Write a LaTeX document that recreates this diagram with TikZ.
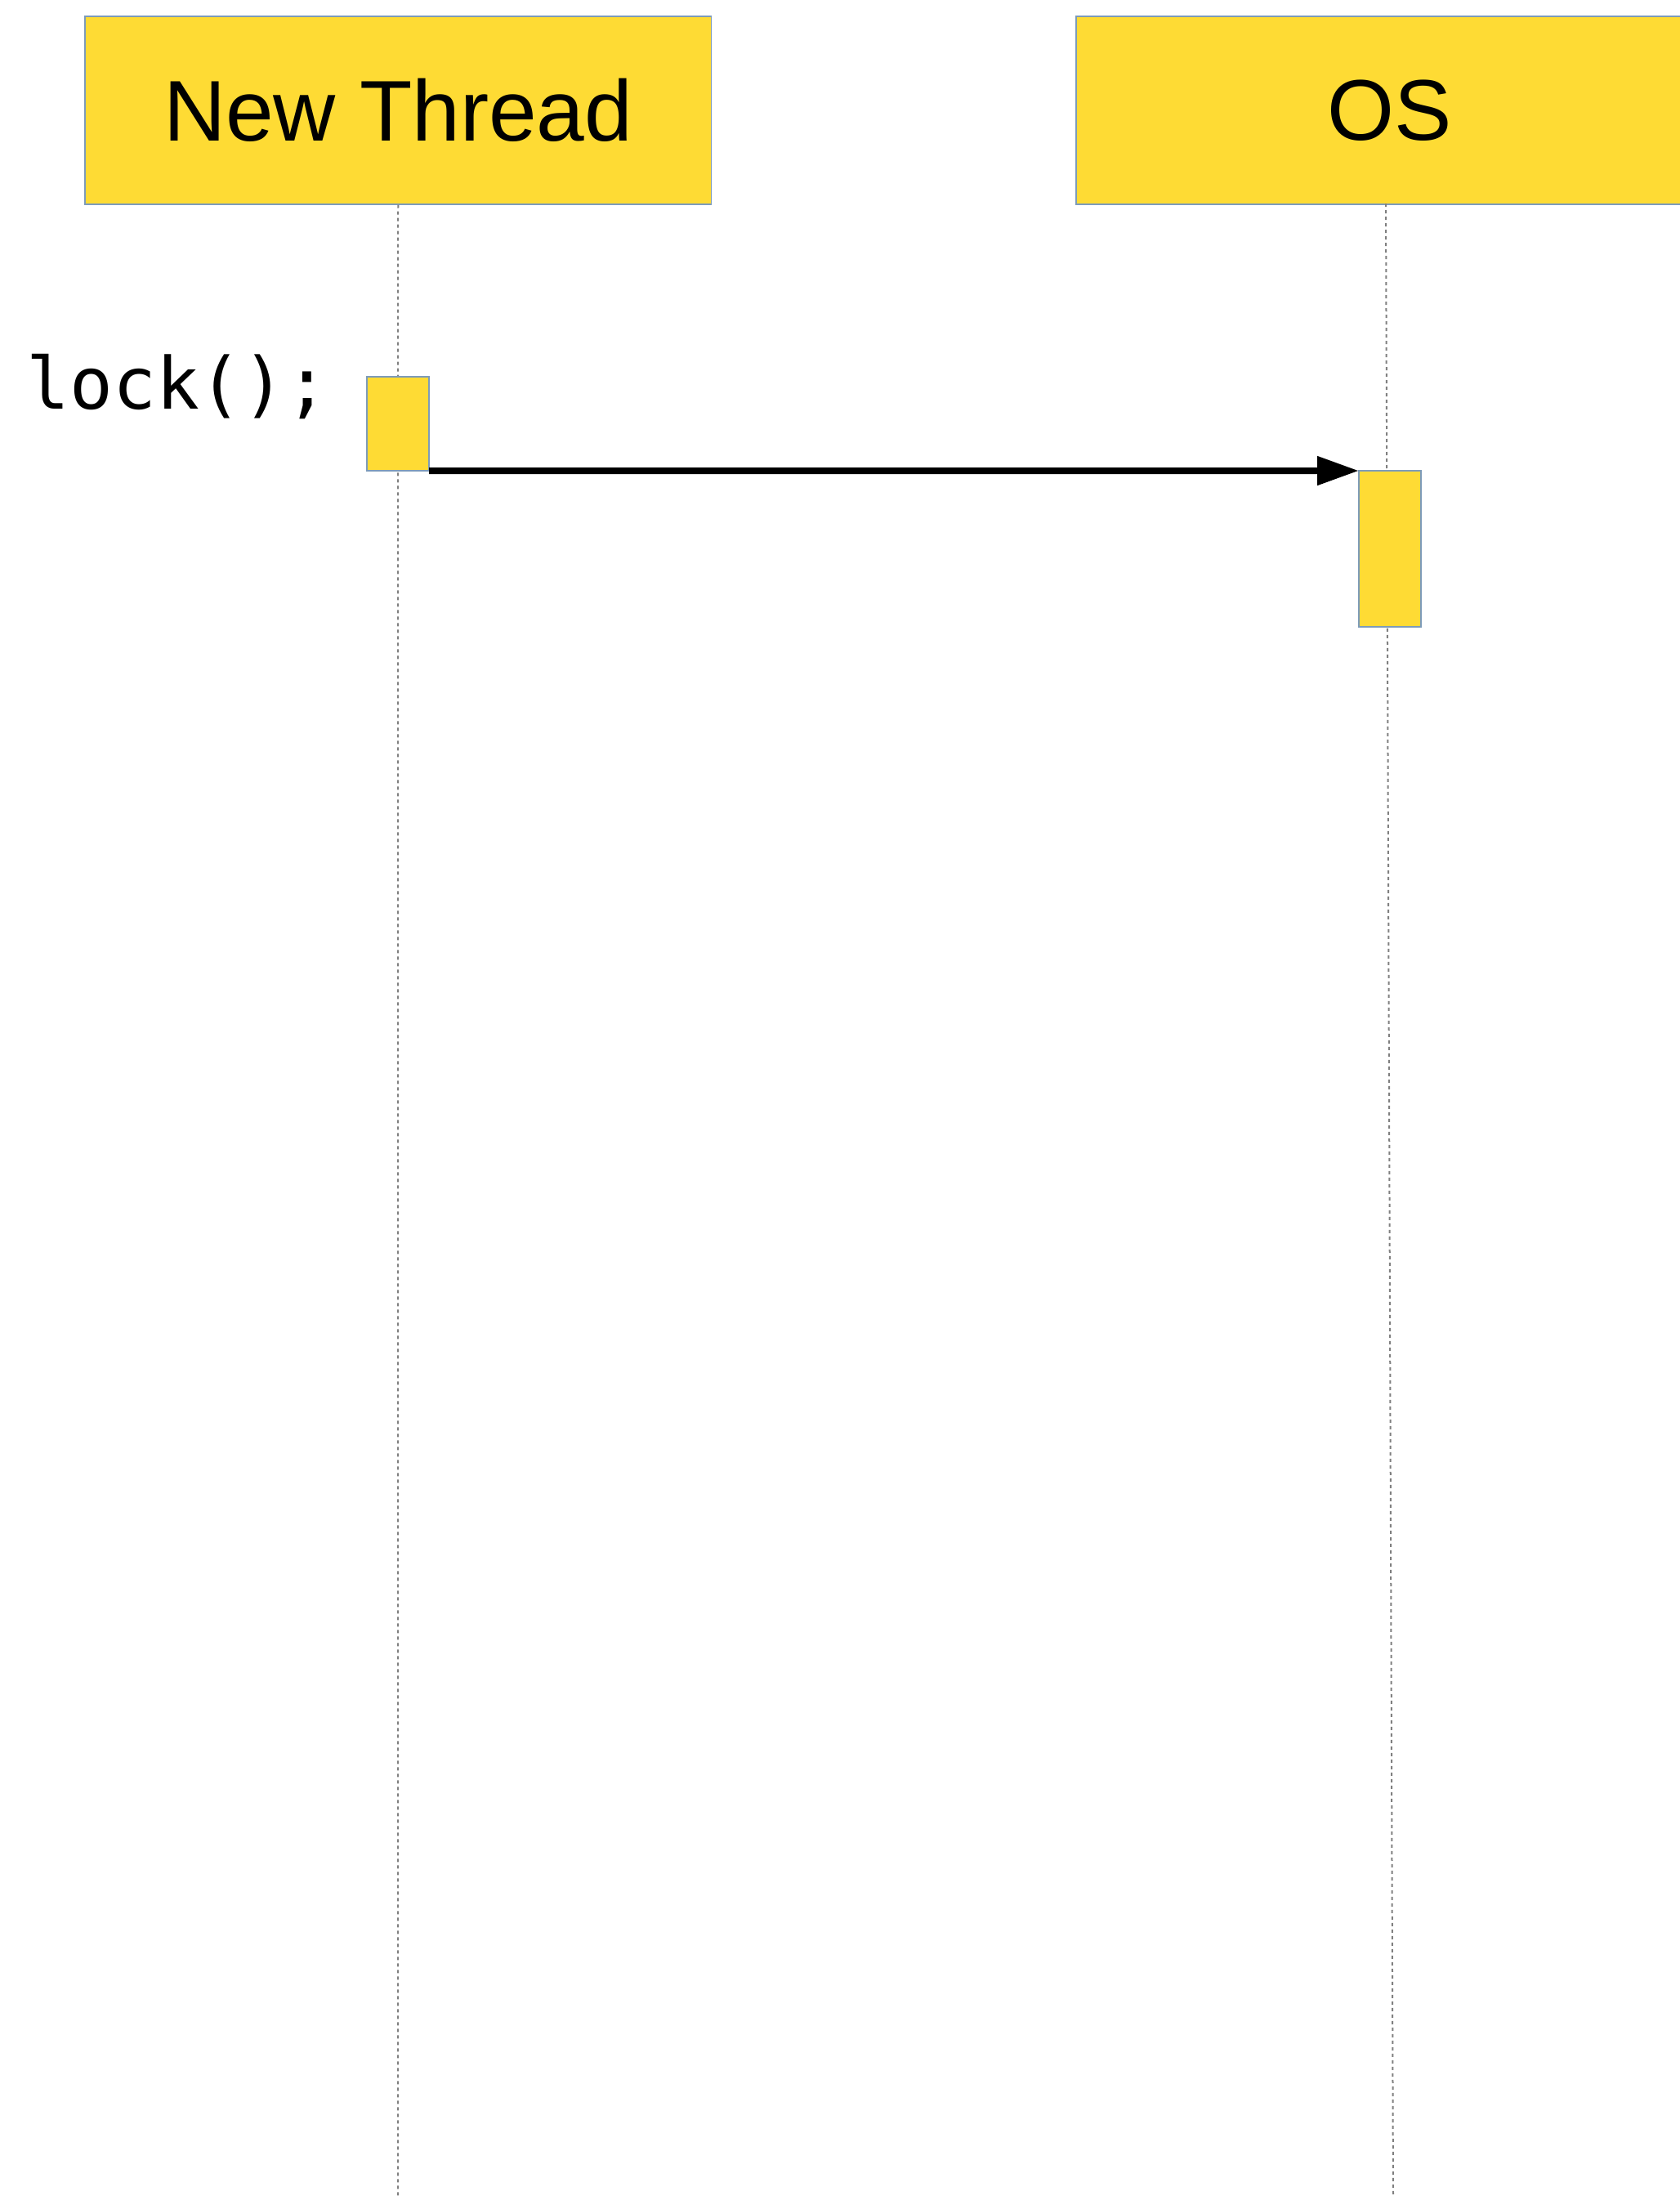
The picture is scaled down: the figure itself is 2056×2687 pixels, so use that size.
\documentclass[tikz,border=0pt]{standalone}
\usepackage{fontspec}
\setmainfont{Liberation Sans}
\newfontfamily\codefont{DejaVu Sans Mono}
\usetikzlibrary{arrows.meta,positioning}
\definecolor{lifeyellow}{RGB}{254,219,52}
\definecolor{lifeedge}{RGB}{125,155,185}
\definecolor{lifegray}{RGB}{128,128,128}

\begin{document}
\begin{tikzpicture}[x=0.1mm,y=-0.1mm,
  head/.style={draw=lifeedge,line width=.15mm,fill=lifeyellow,minimum width=76.7mm,minimum height=23mm,inner sep=0pt,anchor=north west,font=\fontsize{30pt}{36pt}\selectfont},
  actbox/.style={draw=lifeedge,line width=.15mm,fill=lifeyellow,minimum width=7.6mm,inner sep=0pt,outer sep=0pt,anchor=north west},
  lifeline/.style={draw=lifegray,line width=.2mm,dash pattern=on .4mm off .4mm}]
\useasboundingbox (0,0) rectangle (2056,2687);
\clip (0,0) rectangle (2056,2687);
% participants
\node[head] (nt) at (103,19) {New Thread};
\node[head] (os) at (1316,19) {OS};
\coordinate (ostop) at (1696,249);
\coordinate (ntend) at (487,2687);
\coordinate (osend) at (1705,2687);
\draw[lifeline] (nt.south) -- (ntend);
\draw[lifeline] (ostop) -- (osend);
% activations
\node[actbox,minimum height=11.5mm] (nta) at (449,461) {};
\node[actbox,minimum height=19.1mm] (osa) at (1663,576) {};
\node[anchor=base west,font=\codefont\fontsize{25pt}{30pt}\selectfont] (call) at (20,500) {lock();};
\draw[line width=.8mm,-{Triangle[length=5.1mm,width=3.4mm]}] (nta.south east) -- (osa.north west);
\end{tikzpicture}
\end{document}
